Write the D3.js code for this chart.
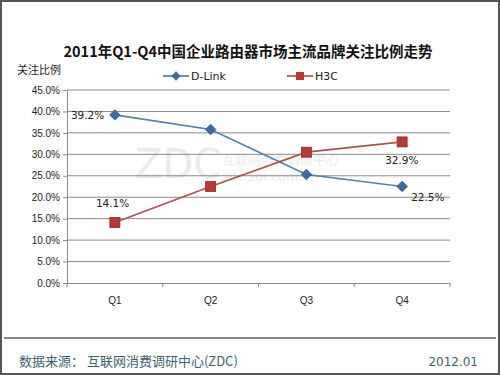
<!DOCTYPE html>
<html lang="zh">
<head>
<meta charset="UTF-8">
<title>2011年Q1-Q4中国企业路由器市场主流品牌关注比例走势</title>
<script src="https://d3js.org/d3.v7.min.js"></script>
<style>
    body { margin: 0; background: #fff; }
    svg { display: block; font-family: "DejaVu Sans", "Noto Sans CJK SC", sans-serif; }
    .tick text { font-size: 10px; fill: #222; }
</style>
</head>
<body>
<svg id="chart" width="500" height="375"></svg>
<script>
    // chart data
    const quarters = ["Q1", "Q2", "Q3", "Q4"];
    const dlink = [39.2, 35.8, 25.3, 22.5];
    const h3c = [14.1, 22.5, 30.5, 32.9];
    const yTicks = [0, 5, 10, 15, 20, 25, 30, 35, 40, 45];

    const svg = d3.select("#chart");
    const cjk = "'Noto Sans CJK SC', sans-serif";

    // outer frame
    svg.append("rect")
        .attr("x", 1).attr("y", 1).attr("width", 498).attr("height", 373)
        .attr("fill", "#fff").attr("stroke", "#555").attr("stroke-width", 2);

    const plot = { left: 67, right: 450, top: 90, bottom: 283 };

    const x = d3.scaleBand().domain(quarters).range([plot.left, plot.right]);
    const y = d3.scaleLinear().domain([0, 45]).range([plot.bottom, plot.top]);

    // watermark
    svg.append("text").attr("x", 135).attr("y", 178)
        .style("font-family", "'DejaVu Sans', sans-serif").style("font-size", "40px")
        .attr("fill", "#ebebeb").text("ZDC");
    svg.append("text").attr("x", 222).attr("y", 164)
        .style("font-family", cjk).style("font-size", "13px")
        .attr("fill", "#ececec").text("互联网消费调研中心");
    svg.append("text").attr("x", 222).attr("y", 181)
        .style("font-family", "'DejaVu Sans', sans-serif").style("font-size", "13px")
        .attr("fill", "#ececec").text("zdc.zol.com.cn");

    // gridlines
    svg.append("g").selectAll("line").data(yTicks.filter(d => d > 0)).join("line")
        .attr("x1", plot.left).attr("x2", plot.right)
        .attr("y1", d => y(d)).attr("y2", d => y(d))
        .attr("stroke", "#8a8a8a").attr("stroke-width", 1);

    // y axis
    const yAxis = svg.append("g")
        .attr("transform", `translate(${plot.left},0)`)
        .call(d3.axisLeft(y).tickValues(yTicks).tickFormat(d => d.toFixed(1) + "%").tickSize(4).tickPadding(3));
    yAxis.selectAll("line, path").attr("stroke", "#8a8a8a");

    // x axis with ticks on band boundaries
    const xAxis = svg.append("g")
        .attr("transform", `translate(0,${plot.bottom})`)
        .call(d3.axisBottom(x).tickSize(0).tickPadding(14));
    xAxis.select("path").attr("stroke", "#8a8a8a");
    xAxis.selectAll(".tick text").style("font-size", "10px");
    xAxis.selectAll(".bound").data(quarters.map(q => x(q) + x.bandwidth()).concat([plot.left]))
        .join("line").attr("class", "bound")
        .attr("x1", d => d).attr("x2", d => d).attr("y1", 0).attr("y2", 4)
        .attr("stroke", "#8a8a8a");

    const cx = q => x(q) + x.bandwidth() / 2;
    const line = d3.line().x((d, i) => cx(quarters[i])).y(d => y(d));

    // lines
    svg.append("path").datum(dlink).attr("d", line)
        .attr("fill", "none").attr("stroke", "#5580ab").attr("stroke-width", 1.7);
    svg.append("path").datum(h3c).attr("d", line)
        .attr("fill", "none").attr("stroke", "#a9554f").attr("stroke-width", 1.7);

    // markers
    const diamond = d3.symbol().type(d3.symbolDiamond2).size(70);
    svg.append("g").selectAll("path").data(dlink).join("path")
        .attr("d", diamond)
        .attr("transform", (d, i) => `translate(${cx(quarters[i])},${y(d)})`)
        .attr("fill", "#3e6c9e").attr("stroke", "#2e5583").attr("stroke-width", 0.8);
    svg.append("g").selectAll("rect").data(h3c).join("rect")
        .attr("x", (d, i) => cx(quarters[i]) - 5).attr("y", d => y(d) - 5)
        .attr("width", 10).attr("height", 10)
        .attr("fill", "#b83a36").attr("stroke", "#8c2b28").attr("stroke-width", 0.8);

    // data labels
    const lbl = (tx, ty, t) => svg.append("text").attr("x", tx).attr("y", ty)
        .style("font-size", "10.5px").attr("fill", "#222").text(t);
    lbl(cx("Q1") - 44, y(dlink[0]) + 4, dlink[0].toFixed(1) + "%");
    lbl(cx("Q1") - 19, y(h3c[0]) - 16, h3c[0].toFixed(1) + "%");
    lbl(cx("Q4") - 17, y(h3c[3]) + 22, h3c[3].toFixed(1) + "%");
    lbl(cx("Q4") + 9, y(dlink[3]) + 14, dlink[3].toFixed(1) + "%");

    // title
    svg.append("text").attr("x", 248).attr("y", 57).attr("text-anchor", "middle")
        .style("font-family", cjk).style("font-size", "14.5px").style("font-weight", "bold")
        .attr("fill", "#111").text("2011年Q1-Q4中国企业路由器市场主流品牌关注比例走势");

    // y unit label
    svg.append("text").attr("x", 17).attr("y", 74)
        .style("font-family", cjk).style("font-size", "11px").attr("fill", "#222").text("关注比例");

    // legend
    const legend = [
        { name: "D-Link", x: 163, color: "#5580ab", fill: "#3e6c9e", shape: "diamond" },
        { name: "H3C", x: 287, color: "#a9554f", fill: "#b83a36", shape: "square" }
    ];
    legend.forEach(l => {
        const g = svg.append("g").attr("transform", `translate(${l.x},76)`);
        g.append("line").attr("x1", 0).attr("x2", 26).attr("stroke", l.color).attr("stroke-width", 1.7);
        if (l.shape === "diamond") {
            g.append("path").attr("d", d3.symbol().type(d3.symbolDiamond2).size(55)).attr("transform", "translate(13,0)")
                .attr("fill", l.fill);
        } else {
            g.append("rect").attr("x", 9).attr("y", -4).attr("width", 8).attr("height", 8).attr("fill", l.fill);
        }
        g.append("text").attr("x", 28).attr("y", 4).style("font-size", "11px").attr("fill", "#222").text(l.name);
    });

    // footer
    svg.append("line").attr("x1", 4).attr("x2", 496).attr("y1", 338).attr("y2", 338)
        .attr("stroke", "#111").attr("stroke-width", 1.2);
    svg.append("text").attr("x", 19).attr("y", 366)
        .style("font-family", cjk).style("font-size", "13px").attr("fill", "#3f5f6f")
        .text("数据来源：  互联网消费调研中心(ZDC)");
    svg.append("text").attr("x", 478).attr("y", 366).attr("text-anchor", "end")
        .style("font-size", "12px").attr("fill", "#3f5f6f").text("2012.01");
</script>
</body>
</html>
